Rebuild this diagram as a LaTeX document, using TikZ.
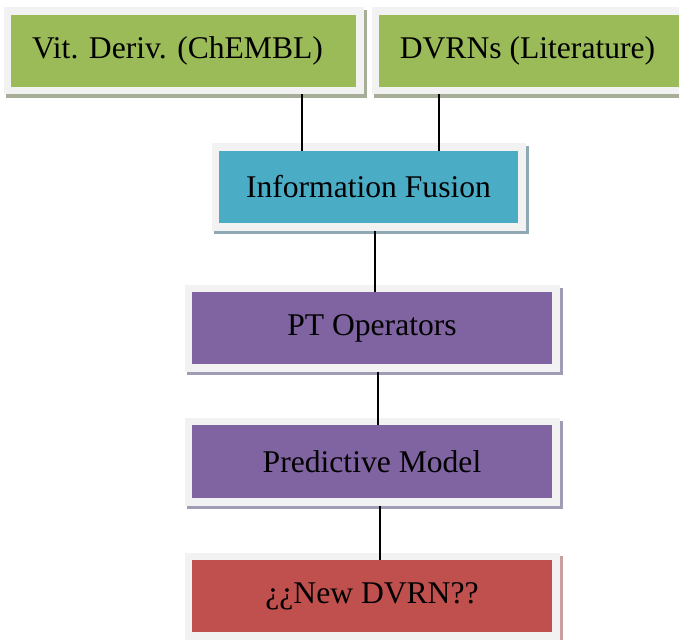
\documentclass[tikz,border=0pt]{standalone}
\usepackage{fontspec}
\setmainfont{Liberation Serif}
\usetikzlibrary{backgrounds,calc}
\definecolor{frameg}{HTML}{F2F2F2}
\definecolor{cgreen}{HTML}{9BBB59}
\definecolor{cblue}{HTML}{4BACC6}
\definecolor{cpurple}{HTML}{8064A2}
\definecolor{cred}{HTML}{C0504D}
\definecolor{sgreen}{HTML}{A7AE98}
\definecolor{sblue}{HTML}{8EA9B4}
\definecolor{spurple}{HTML}{A29BB6}
\definecolor{sred}{HTML}{C9A09F}
\tikzset{
  box/.style={rectangle, inner sep=0pt, outer sep=0pt,
    font=\fontsize{31.6}{38}\selectfont, text=black},
  link/.style={draw=black, line width=1.6pt},
}
\begin{document}
\begin{tikzpicture}[x=1pt,y=-1pt]
\useasboundingbox (0,0) rectangle (679,639);
\clip (0,0) rectangle (679,639);

\node[box, fill=cgreen, minimum width=345pt, minimum height=72pt] (a) at (183.5,51) {\hspace*{-12pt}Vit. Deriv. (ChEMBL)};
\node[box, fill=cgreen, minimum width=311pt, minimum height=72pt] (b) at (534.5,51) {\hspace*{-14pt}DVRNs (Literature)};
\node[box, fill=cblue, minimum width=299pt, minimum height=72pt] (c) at (368.5,187) {Information Fusion};
\node[box, fill=cpurple, minimum width=360pt, minimum height=72pt] (d) at (372,328) {PT Operators};
\node[box, fill=cpurple, minimum width=360pt, minimum height=73pt] (e) at (372,461.5) {Predictive Model};
\node[box, fill=cred, minimum width=360pt, minimum height=72pt] (f) at (372,596) {¿¿New DVRN??};

\begin{scope}[on background layer]
\fill[white] (0,0) rectangle (679,639);
\foreach \n/\s in {a/sgreen,b/sgreen,c/sblue,d/spurple,e/spurple,f/sred}{
  \fill[\s] ($(\n.north west)+(-5,-4.5)$) rectangle ($(\n.south east)+(10.5,11)$);
  \fill[frameg] ($(\n.north west)+(-7.5,-7.5)$) rectangle ($(\n.south east)+(7.5,7.5)$);
}
\end{scope}

\coordinate (x1) at (302,0);
\coordinate (x2) at (439,0);
\coordinate (x3) at (375,0);
\coordinate (x4) at (378,0);
\coordinate (x5) at (380,0);
\draw[link] (a.south -| x1) ++(0,7.5) -- (c.north -| x1);
\draw[link] (b.south -| x2) ++(0,7.5) -- (c.north -| x2);
\draw[link] (c.south -| x3) ++(0,7.5) -- (d.north -| x3);
\draw[link] (d.south -| x4) ++(0,7.5) -- (e.north -| x4);
\draw[link] (e.south -| x5) ++(0,7.5) -- (f.north -| x5);
\end{tikzpicture}
\end{document}
